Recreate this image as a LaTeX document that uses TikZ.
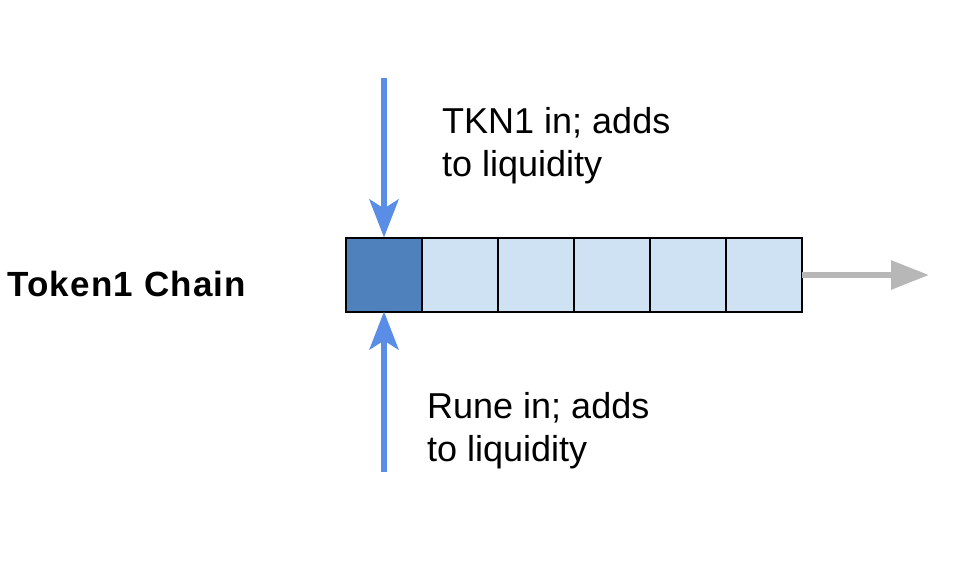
\documentclass[tikz,border=0pt]{standalone}
\usepackage{fontspec}
\setmainfont{Liberation Sans}
\newfontfamily\chainfont[LetterSpace=3.5]{Liberation Sans}
\usetikzlibrary{arrows.meta,positioning}
\definecolor{arrblue}{HTML}{5A8DE6}
\definecolor{darkcell}{HTML}{4F81BD}
\definecolor{lightcell}{HTML}{CFE2F3}
\definecolor{arrgray}{HTML}{B7B7B7}
\tikzset{
  cellbox/.style={draw=black, line width=2pt, minimum width=76pt, minimum height=74pt, inner sep=0pt, outer sep=0pt},
  bluearrow/.style={draw=arrblue, line width=6pt, -{Stealth[length=38pt,width=29pt,inset=9pt]}},
  grayarrow/.style={draw=arrgray, line width=6pt, -{Triangle[length=38pt,width=28pt]}},
  label/.style={align=left, inner sep=0pt, font=\fontsize{36}{43}\selectfont},
}
\begin{document}
\begin{tikzpicture}[x=1pt,y=-1pt]
\useasboundingbox (0,0) rectangle (958,570);
\node[cellbox, fill=darkcell] (c1) at (384,274.5) {};
\node[cellbox, fill=lightcell, right=0pt of c1] (c2) {};
\node[cellbox, fill=lightcell, right=0pt of c2] (c3) {};
\node[cellbox, fill=lightcell, right=0pt of c3] (c4) {};
\node[cellbox, fill=lightcell, right=0pt of c4] (c5) {};
\node[cellbox, fill=lightcell, right=0pt of c5] (c6) {};
\coordinate (topstart) at (384,78);
\coordinate (botstart) at (384,472);
\coordinate (grayend) at (929,275);
\draw[bluearrow] (topstart) -- (c1.north);
\draw[bluearrow] (botstart) -- (c1.south);
\draw[grayarrow] (c6.east |- grayend) -- (grayend);
\node[label, anchor=base west] (tkn) at (442,176) {TKN1 in; adds\\to liquidity};
\node[label, anchor=base west] (rune) at (427,461) {Rune in; adds\\to liquidity};
\node[anchor=base west, inner sep=0pt, font=\chainfont\bfseries\fontsize{35}{42}\selectfont] (chain) at (7,296) {Token1 Chain};
\end{tikzpicture}
\end{document}
